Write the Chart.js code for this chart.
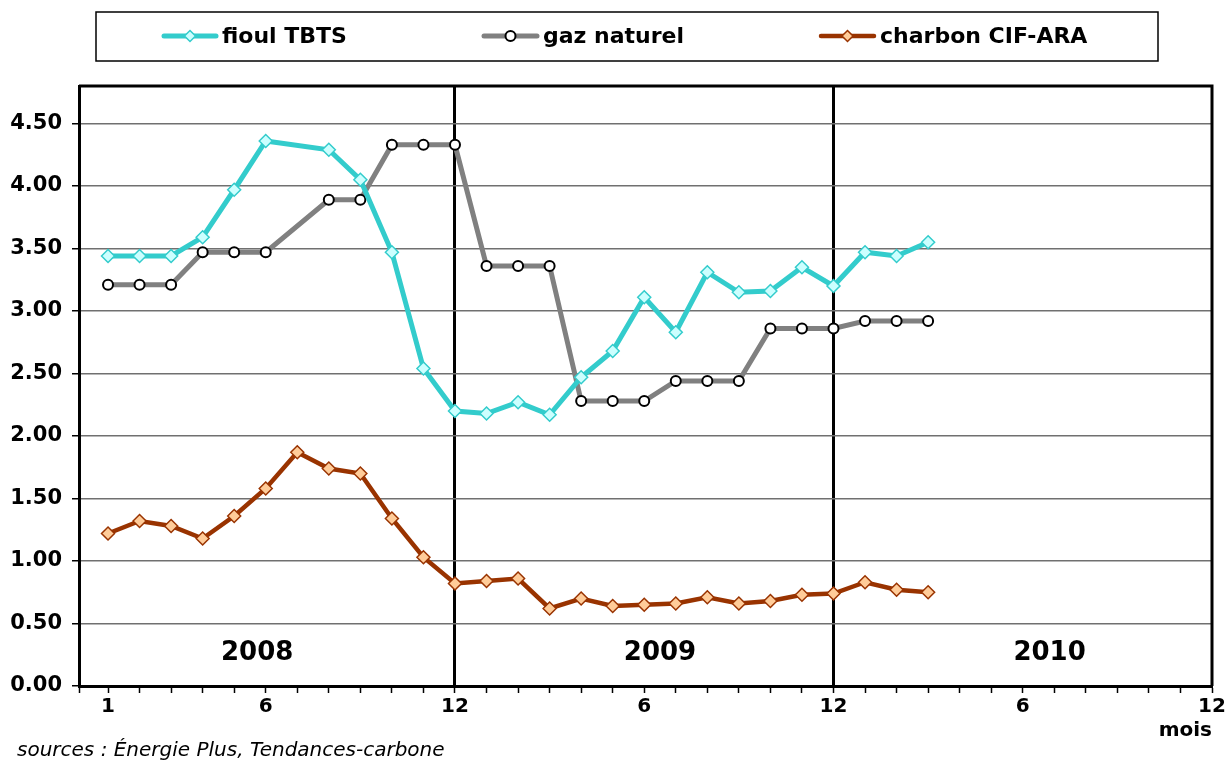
<!DOCTYPE html>
<html>
<head>
<meta charset="utf-8">
<script src="https://cdn.jsdelivr.net/npm/chart.js@4.4.1/dist/chart.umd.min.js"></script>
<style>
  html, body { margin: 0; padding: 0; background: #ffffff; }
  #wrap { position: relative; width: 1231px; height: 766px; }
</style>
</head>
<body>
<div id="wrap"><canvas id="c" width="1231" height="766"></canvas></div>
<script>
// ---- data (months counted from January 2008) ----
const months = [1,2,3,4,5,6,7,8,9,10,11,12,13,14,15,16,17,18,19,20,21,22,23,24,25,26,27];
const fioulTBTS = [3.44,3.44,3.44,3.59,3.97,4.36,null,4.29,4.05,3.47,2.54,2.20,2.18,2.27,2.17,2.47,2.68,3.11,2.83,3.31,3.15,3.16,3.35,3.20,3.47,3.44,3.55];
const gazNaturel = [3.21,3.21,3.21,3.47,3.47,3.47,null,3.89,3.89,4.33,4.33,4.33,3.36,3.36,3.36,2.28,2.28,2.28,2.44,2.44,2.44,2.86,2.86,2.86,2.92,2.92,2.92];
const charbonCIF = [1.22,1.32,1.28,1.18,1.36,1.58,1.87,1.74,1.70,1.34,1.03,0.82,0.84,0.86,0.62,0.70,0.64,0.65,0.66,0.71,0.66,0.68,0.73,0.74,0.83,0.77,0.75];
const seriesNames = ['fioul TBTS', 'gaz naturel', 'charbon CIF-ARA'];
const yTicks = [0, 0.5, 1, 1.5, 2, 2.5, 3, 3.5, 4, 4.5];
const xTickMonths = [1,2,3,4,5,6,7,8,9,10,11,12,13,14,15,16,17,18,19,20,21,22,23,24,25,26,27,28,29,30,31,32,33,34,35,36];
const xTickLabels = {1:'1', 6:'6', 12:'12', 18:'6', 24:'12', 30:'6', 36:'12'};
const yearLabels = ['2008', '2009', '2010'];
const yearSeparators = [12, 24];
const sourceText = 'sources : Énergie Plus, Tendances-carbone';
const xAxisTitle = 'mois';

const FONT = "'DejaVu Sans', Verdana, sans-serif";
Chart.defaults.font.family = FONT;
Chart.defaults.color = '#000';

function pts(arr) { return months.map((m, i) => ({x: m, y: arr[i]})); }

const styles = [
  {line: '#33cccc', width: 5, style: 'rectRot', r: 6.5, fill: '#ccffff', stroke: '#33cccc', bw: 1.5},
  {line: '#808080', width: 5, style: 'circle', r: 5, fill: '#ffffff', stroke: '#000000', bw: 2},
  {line: '#993300', width: 4.5, style: 'rectRot', r: 6.5, fill: '#ffcc99', stroke: '#993300', bw: 1.5}
];
const seriesData = [fioulTBTS, gazNaturel, charbonCIF];

const datasets = seriesData.map((arr, i) => ({
  label: seriesNames[i],
  data: pts(arr),
  borderColor: styles[i].line,
  borderWidth: styles[i].width,
  pointStyle: styles[i].style,
  pointRadius: styles[i].r,
  pointBackgroundColor: styles[i].fill,
  pointBorderColor: styles[i].stroke,
  pointBorderWidth: styles[i].bw,
  tension: 0,
  spanGaps: true,
  fill: false
}));

const extras = {
  id: 'extras',
  beforeDatasetsDraw(chart) {
    const {ctx, chartArea: a} = chart;
    ctx.save();
    ctx.strokeStyle = '#000';
    ctx.lineWidth = 3;
    ctx.beginPath();
    ctx.moveTo(a.left, a.top);
    ctx.lineTo(a.right, a.top);
    ctx.lineTo(a.right, a.bottom);
    ctx.stroke();
    // year labels
    const xs = chart.scales.x, ys = chart.scales.y;
    const yearX = [5.73, 18.5, 30.85];
    ctx.fillStyle = '#000';
    ctx.font = 'bold 26px ' + FONT;
    ctx.textAlign = 'center';
    ctx.textBaseline = 'middle';
    yearLabels.forEach((t, i) => ctx.fillText(t, xs.getPixelForValue(yearX[i]), ys.getPixelForValue(0.26)));
    ctx.restore();
  },
  afterDraw(chart) {
    const {ctx} = chart;
    ctx.save();
    // legend box
    ctx.strokeStyle = '#000';
    ctx.lineWidth = 1.5;
    ctx.strokeRect(96, 12, 1062, 49);
    const items = [
      {x1: 164, x2: 216, tx: 222},
      {x1: 484, x2: 537, tx: 543},
      {x1: 821, x2: 874, tx: 880}
    ];
    const ly = 36;
    items.forEach((it, i) => {
      const s = styles[i];
      ctx.strokeStyle = s.line;
      ctx.lineWidth = s.width;
      ctx.lineCap = 'round';
      ctx.beginPath();
      ctx.moveTo(it.x1, ly);
      ctx.lineTo(it.x2, ly);
      ctx.stroke();
      const cx = (it.x1 + it.x2) / 2;
      const r = s.style === 'circle' ? 5 : 5.5;
      ctx.fillStyle = s.fill;
      ctx.strokeStyle = s.stroke;
      ctx.lineWidth = s.bw;
      ctx.beginPath();
      if (s.style === 'circle') {
        ctx.arc(cx, ly, r, 0, Math.PI * 2);
      } else {
        ctx.moveTo(cx, ly - r); ctx.lineTo(cx + r, ly); ctx.lineTo(cx, ly + r); ctx.lineTo(cx - r, ly); ctx.closePath();
      }
      ctx.fill(); ctx.stroke();
      ctx.fillStyle = '#000';
      ctx.font = 'bold 22px ' + FONT;
      ctx.textAlign = 'left';
      ctx.textBaseline = 'middle';
      ctx.fillText(seriesNames[i], it.tx, ly + 1);
    });
    // source
    ctx.font = 'italic 20px ' + FONT;
    ctx.textAlign = 'left';
    ctx.textBaseline = 'middle';
    ctx.fillText(sourceText, 17, 751);
    ctx.restore();
  }
};

new Chart(document.getElementById('c'), {
  type: 'line',
  data: { datasets },
  plugins: [extras],
  options: {
    responsive: false,
    animation: false,
    layout: { padding: { left: 0, top: 86, right: 19, bottom: 0 } },
    plugins: { legend: { display: false }, tooltip: { enabled: false } },
    scales: {
      x: {
        type: 'linear',
        min: 0.08,
        max: 36,
        afterBuildTicks(scale) { scale.ticks = [0.08].concat(xTickMonths).map(v => ({value: v})); },
        afterFit(scale) { scale.height = 80; },
        ticks: {
          autoSkip: false,
          maxRotation: 0,
          padding: 2,
          font: { size: 20, weight: 'bold' },
          color: '#000',
          callback(v) { return xTickLabels[v] || ''; }
        },
        grid: {
          color: c => yearSeparators.includes(c.tick && c.tick.value) ? '#000' : 'rgba(0,0,0,0)',
          lineWidth: c => yearSeparators.includes(c.tick && c.tick.value) ? 3 : 1,
          drawTicks: true,
          tickLength: 7,
          tickColor: '#000',
          tickWidth: 1.5
        },
        border: { display: true, color: '#000', width: 3 },
        title: {
          display: true,
          text: xAxisTitle,
          align: 'end',
          font: { size: 20, weight: 'bold' },
          color: '#000',
          padding: { top: 0, bottom: 23 }
        }
      },
      y: {
        min: 0,
        max: 4.8,
        afterBuildTicks(scale) { scale.ticks = yTicks.map(v => ({value: v})); },
        afterFit(scale) { scale.width = 79; },
        ticks: {
          padding: 10,
          font: { size: 21, weight: 'bold' },
          color: '#000',
          callback(v) { return Number(v).toFixed(2); }
        },
        grid: {
          color: '#707070',
          lineWidth: 1.5,
          tickLength: 7,
          tickColor: '#000',
          tickWidth: 1.5
        },
        border: { display: true, color: '#000', width: 3 }
      }
    }
  }
});
</script>
</body>
</html>
